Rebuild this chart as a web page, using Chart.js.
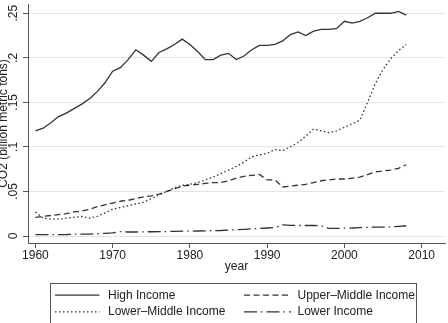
<!DOCTYPE html>
<html>
<head>
<meta charset="utf-8">
<script src="https://cdn.jsdelivr.net/npm/chart.js@4/dist/chart.umd.min.js"></script>
<style>
  html, body { margin: 0; padding: 0; background: #fff; }
  #wrap { width: 448px; height: 323px; position: relative; }
</style>
</head>
<body>
<div id="wrap"><canvas id="c"></canvas></div>
<script>
// ---- data ----
const years = [1960,1961,1962,1963,1964,1965,1966,1967,1968,1969,
               1970,1971,1972,1973,1974,1975,1976,1977,1978,1979,
               1980,1981,1982,1983,1984,1985,1986,1987,1988,1989,
               1990,1991,1992,1993,1994,1995,1996,1997,1998,1999,
               2000,2001,2002,2003,2004,2005,2006,2007,2008];

const highIncome = [0.118,0.121,0.127,0.134,0.138,0.143,0.148,0.154,0.162,0.172,
                    0.185,0.189,0.198,0.209,0.203,0.196,0.206,0.210,0.215,0.221,
                    0.215,0.207,0.198,0.198,0.203,0.205,0.198,0.202,0.209,0.214,
                    0.214,0.215,0.219,0.226,0.229,0.225,0.230,0.232,0.232,0.233,
                    0.241,0.239,0.241,0.245,0.250,0.250,0.250,0.252,0.248];

const upperMiddle = [0.021,0.022,0.023,0.024,0.025,0.027,0.028,0.030,0.033,0.035,
                     0.037,0.039,0.040,0.042,0.044,0.045,0.047,0.050,0.053,0.056,
                     0.057,0.058,0.059,0.060,0.060,0.062,0.065,0.067,0.068,0.069,
                     0.063,0.063,0.055,0.056,0.057,0.058,0.060,0.062,0.063,0.064,
                     0.064,0.065,0.066,0.069,0.072,0.073,0.074,0.076,0.080];

const lowerMiddle = [0.027,0.020,0.019,0.019,0.020,0.021,0.022,0.020,0.022,0.026,
                     0.030,0.032,0.034,0.036,0.038,0.042,0.046,0.050,0.054,0.057,
                     0.058,0.060,0.063,0.066,0.070,0.074,0.078,0.083,0.089,0.091,
                     0.093,0.097,0.096,0.100,0.105,0.112,0.120,0.118,0.116,0.118,
                     0.122,0.126,0.130,0.150,0.171,0.187,0.199,0.208,0.215];

const lowerIncome = [0.0015,0.0015,0.0015,0.0016,0.0017,0.0020,0.0020,0.0022,0.0025,0.0030,
                     0.0035,0.0050,0.0045,0.0045,0.0047,0.0048,0.0050,0.0050,0.0052,0.0054,
                     0.0055,0.0056,0.0058,0.0060,0.0062,0.0066,0.0070,0.0075,0.0080,0.0085,
                     0.0090,0.0095,0.0125,0.0120,0.0118,0.0118,0.0120,0.0115,0.0085,0.0085,
                     0.0088,0.0090,0.0095,0.0098,0.0100,0.0100,0.0102,0.0108,0.0115];

const seriesLabels = ["High Income", "Upper\u2013Middle Income", "Lower\u2013Middle Income", "Lower Income"];
const yTickValues = [0, 0.05, 0.1, 0.15, 0.2, 0.25];
const yTickLabels = ["0", ".05", ".1", ".15", ".2", ".25"];
const xTickValues = [1960, 1970, 1980, 1990, 2000, 2010];
const xTitle = "year";
const yTitle = "CO2 (billion metric tons)";

// ---- styling ----
const FONT = "'Liberation Sans', Arial, Helvetica, sans-serif";
const LINE = '#333333';
const dashes = [[], [6, 3.5], [1.5, 2.5], [13, 4, 1.5, 4]];
const seriesData = [highIncome, upperMiddle, lowerMiddle, lowerIncome];

const datasets = seriesData.map((arr, i) => ({
  label: seriesLabels[i],
  data: years.map((yr, j) => ({ x: yr, y: arr[j] })),
  borderColor: LINE,
  borderWidth: 1.3,
  borderDash: dashes[i],
  pointRadius: 0,
  fill: false,
  tension: 0
}));

// custom plugin: rotated y tick labels + boxed two-column legend
const stataDecor = {
  id: 'stataDecor',
  afterDraw(chart) {
    const ctx = chart.ctx;
    const ys = chart.scales.y;
    ctx.save();
    ctx.fillStyle = '#222';
    ctx.font = '12px ' + FONT;
    ctx.textAlign = 'center';
    ctx.textBaseline = 'middle';
    yTickValues.forEach((v, i) => {
      const py = ys.getPixelForValue(v);
      ctx.save();
      ctx.translate(13.6, py);
      ctx.rotate(-Math.PI / 2);
      ctx.fillText(yTickLabels[i], 0, 0);
      ctx.restore();
    });
    ctx.restore();

    // legend
    ctx.save();
    ctx.strokeStyle = '#555';
    ctx.lineWidth = 1;
    ctx.setLineDash([]);
    ctx.strokeRect(50.5, 283.5, 366, 45);
    const cols = [{ x0: 55, x1: 99.5, tx: 108 }, { x0: 244, x1: 291, tx: 297.5 }];
    const rows = [295.2, 311.8];
    chart.data.datasets.forEach((ds, i) => {
      const c = cols[i % 2];
      const r = rows[Math.floor(i / 2)];
      ctx.strokeStyle = ds.borderColor;
      ctx.lineWidth = ds.borderWidth;
      ctx.setLineDash(ds.borderDash || []);
      ctx.beginPath();
      ctx.moveTo(c.x0, r);
      ctx.lineTo(c.x1, r);
      ctx.stroke();
      ctx.setLineDash([]);
      ctx.fillStyle = '#222';
      ctx.font = '12px ' + FONT;
      ctx.textAlign = 'left';
      ctx.textBaseline = 'middle';
      ctx.fillText(ds.label, c.tx, r);
    });
    ctx.restore();
  }
};

new Chart(document.getElementById('c'), {
  type: 'line',
  data: { datasets },
  plugins: [stataDecor],
  options: {
    responsive: true,
    maintainAspectRatio: false,
    animation: false,
    events: [],
    layout: { padding: { left: 0, top: 4, right: 3, bottom: 0 } },
    plugins: { legend: { display: false }, tooltip: { enabled: false }, title: { display: false } },
    scales: {
      x: {
        type: 'linear',
        min: 1959.04,
        max: 2013.02,
        afterBuildTicks: (s) => { s.ticks = xTickValues.map(v => ({ value: v })); },
        afterFit: (s) => { s.height = 80; },
        grid: { drawOnChartArea: false, drawTicks: true, tickLength: 5, tickColor: '#555', tickWidth: 1 },
        border: { display: true, color: '#555', width: 1 },
        ticks: {
          color: '#222', padding: 0, maxRotation: 0, minRotation: 0,
          font: { family: FONT, size: 12 },
          callback: (v) => String(v)
        },
        title: {
          display: true, text: xTitle, color: '#222',
          font: { family: FONT, size: 12 },
          padding: { top: 0, bottom: 48.8 }
        }
      },
      y: {
        type: 'linear',
        min: -0.00785,
        max: 0.2604,
        afterBuildTicks: (s) => { s.ticks = yTickValues.map(v => ({ value: v })); },
        afterFit: (s) => { s.width = 28; },
        grid: { color: '#e3e3e3', lineWidth: 1, drawTicks: true, tickLength: 5, tickColor: '#555', tickWidth: 1 },
        border: { display: true, color: '#555', width: 1 },
        ticks: { display: false },
        title: {
          display: true, text: yTitle, color: '#222',
          font: { family: FONT, size: 12 },
          padding: { top: -3.7, bottom: 0 }
        }
      }
    }
  }
});
</script>
</body>
</html>
